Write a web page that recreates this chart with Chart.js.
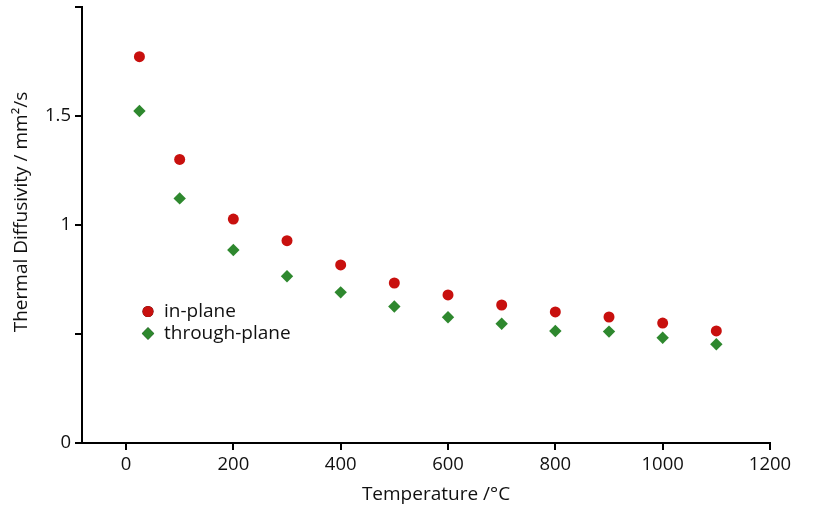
<!DOCTYPE html>
<html>
<head>
<meta charset="utf-8">
<script src="https://cdn.jsdelivr.net/npm/chart.js@4"></script>
<style>
  html, body { margin: 0; padding: 0; background: #fff; }
  #wrap { width: 813px; height: 506px; }
</style>
</head>
<body>
<div id="wrap"><canvas id="c" width="813" height="506"></canvas></div>
<script>
const temperatures = [25, 100, 200, 300, 400, 500, 600, 700, 800, 900, 1000, 1100];
const inPlane      = [1.772, 1.301, 1.027, 0.928, 0.817, 0.734, 0.679, 0.633, 0.601, 0.578, 0.550, 0.514];
const throughPlane = [1.523, 1.122, 0.885, 0.765, 0.691, 0.626, 0.577, 0.547, 0.514, 0.511, 0.483, 0.453];
const seriesNames  = ['in-plane', 'through-plane'];
const yHiddenLabels = [0.5, 2];
const xTitle = 'Temperature /°C';
const yTitle = 'Thermal Diffusivity / mm²/s';

const FONT = '"Open Sans", "DejaVu Sans", sans-serif';
const RED = '#c8100e';
const GREEN = '#2e882e';
const TEXT = '#111';

const toPts = (xs, ys) => xs.map((x, i) => ({ x: x, y: ys[i] }));

const insideLegend = {
  id: 'insideLegend',
  afterDatasetsDraw(chart) {
    const ctx = chart.ctx;
    const ca = chart.chartArea;
    const x0 = ca.left + 66, y0 = ca.top + 304.5, gap = 22;
    ctx.save();
    ctx.font = '19px ' + FONT;
    ctx.textBaseline = 'middle';
    ctx.textAlign = 'left';
    chart.data.datasets.forEach((ds, i) => {
      const y = y0 + i * gap;
      Chart.helpers.drawPoint(ctx, {
        pointStyle: ds.pointStyle,
        radius: ds.pointRadius,
        borderWidth: 0
      }, x0, y);
      ctx.fillStyle = ds.backgroundColor;
      ctx.fill();
      ctx.fillStyle = TEXT;
      ctx.fillText(ds.label, x0 + 16, y);
    });
    ctx.restore();
  }
};

const axisTitles = {
  id: 'axisTitles',
  afterDraw(chart) {
    const ctx = chart.ctx;
    const ca = chart.chartArea;
    ctx.save();
    ctx.font = '19px ' + FONT;
    ctx.fillStyle = TEXT;
    ctx.textAlign = 'center';
    ctx.textBaseline = 'middle';
    ctx.fillText(xTitle, ca.left + 354, ca.bottom + 52);
    ctx.translate(ca.left - 60, ca.top + 205);
    ctx.rotate(-Math.PI / 2);
    ctx.fillText(yTitle, 0, 0);
    ctx.restore();
  }
};

new Chart(document.getElementById('c'), {
  type: 'scatter',
  data: {
    datasets: [
      { label: seriesNames[0], data: toPts(temperatures, inPlane), pointStyle: 'circle',
        pointRadius: 5.5, backgroundColor: RED, borderColor: RED, borderWidth: 0 },
      { label: seriesNames[1], data: toPts(temperatures, throughPlane), pointStyle: 'rectRot',
        pointRadius: 6.2, backgroundColor: GREEN, borderColor: GREEN, borderWidth: 0 }
    ]
  },
  options: {
    responsive: false,
    animation: false,
    layout: { padding: { top: 7, right: 43, left: 0, bottom: 0 } },
    plugins: {
      legend: { display: false },
      tooltip: { enabled: false }
    },
    scales: {
      x: {
        type: 'linear',
        min: -82, max: 1200,
        afterFit(s) { s.height = 63; s.paddingLeft = 0; s.paddingRight = 0; },
        border: { color: '#000', width: 2 },
        grid: { drawOnChartArea: false, color: '#000', lineWidth: 2, tickLength: 7 },
        ticks: { stepSize: 200, includeBounds: false, color: TEXT, padding: 4,
                 font: { family: FONT, size: 18.5 },
                 callback: v => String(v) }
      },
      y: {
        min: 0, max: 2,
        afterFit(s) { s.width = 82; s.paddingTop = 0; s.paddingBottom = 0; },
        border: { color: '#000', width: 2 },
        grid: { drawOnChartArea: false, color: '#000', lineWidth: 2, tickLength: 7 },
        ticks: { stepSize: 0.5, color: TEXT, padding: 4,
                 font: { family: FONT, size: 18.5 },
                 callback: v => yHiddenLabels.includes(v) ? '' : String(v) }
      }
    }
  },
  plugins: [insideLegend, axisTitles]
});
</script>
</body>
</html>
